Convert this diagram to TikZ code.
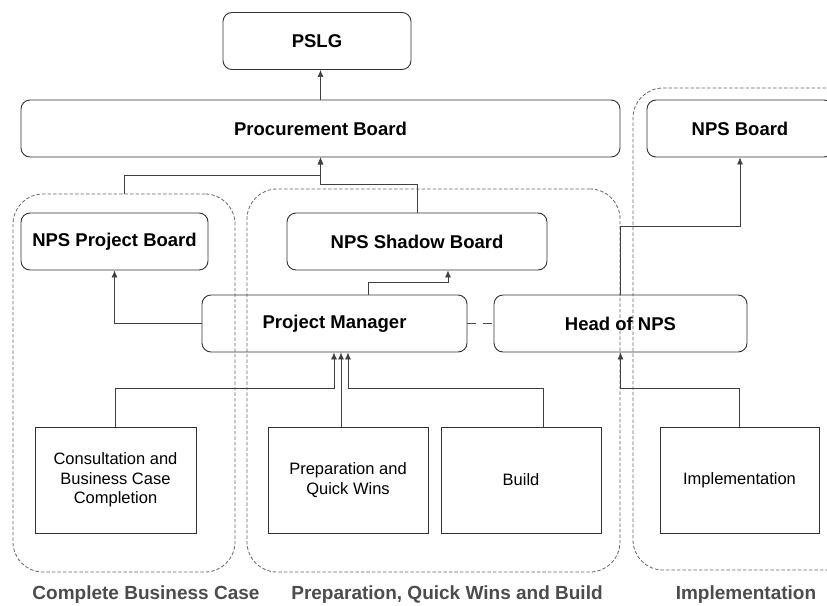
\documentclass[tikz,border=0pt]{standalone}
\usepackage{fontspec}
\setmainfont{Liberation Sans}
\usepackage{tikz}
\usetikzlibrary{positioning,arrows,arrows.meta}
\tikzset{
board/.style = {draw=black!80, rounded corners=9pt, line width=0.9pt, minimum height=57pt, inner sep=2pt,
  font=\fontsize{18.5}{21}\selectfont\bfseries},
task/.style = {draw=black!80, line width=0.9pt, minimum width=160pt, minimum height=106pt, align=center,
  font=\fontsize{16.5}{19.5}\selectfont},
phase/.style = {draw=black!60, dash pattern=on 3.5pt off 2pt, rounded corners=30pt, line width=0.8pt},
phaselabel/.style = {text=black!70, font=\fontsize{19}{22}\selectfont\bfseries},
link/.style = {draw=black!75, line width=0.7pt, -{Latex[length=7pt,width=6pt]}} % connector with arrow head
}

\begin{document}
\begin{tikzpicture}[x=1pt, y=-1pt]
      \clip (0,0) rectangle (827,605);
      % phases
      \node [phase, minimum width=222pt, minimum height=378pt] (grpA) at (124,383) {};
      \node [phase, minimum width=373pt, minimum height=383pt] (grpB) at (433.5,380.5) {};
      \node [phase, minimum width=267pt, minimum height=482pt] (grpC) at (766.5,329) {};
      \node [phaselabel] (labA) at (146,595) {Complete Business Case};
      \node [phaselabel] (labB) at (447,595) {Preparation, Quick Wins and Build};
      \node [phaselabel] (labC) at (746,595) {Implementation};
      % boards
      \node [board, minimum width=188pt] (pslg) at (317,41) {PSLG};
      \node [board, minimum width=599pt] (proc) at (320.5,128.5) {Procurement Board};
      \node [board, minimum width=186pt] (npsb) at (740,128.5) {NPS Board};
      \node [board, minimum width=187pt] (npb) at (114.5,241.5) {NPS Project Board};
      \node [board, minimum width=260pt] (nsb) at (417,241.5) {NPS Shadow Board};
      \node [board, minimum width=265pt] (pm) at (334.5,323.5) {Project Manager};
      \node [board, minimum width=253pt] (head) at (620.5,323.5) {Head of NPS};
      % work streams
      \node [task, minimum width=161pt] (cons) at (115.5,480) {Consultation and\\Business Case\\Completion};
      \node [task] (prep) at (348,480) {Preparation and\\Quick Wins};
      \node [task] (build) at (521,480) {Build};
      \node [task, minimum width=159pt] (impl) at (739.5,480) {Implementation};
      % connectors
      \draw [link] (proc.north) -- (proc.north |- pslg.south);
      \draw [link] (grpA.north) -- ++(0,-18) -| (proc.south);
      \draw [link] (nsb.north) -- ++(0,-28) -| (proc.south);
      \draw [link] (pm.west) -| (npb.south);
      \draw [link] ([xshift=33.5pt]pm.north) -- ++(0,-12) -| ([xshift=31pt]nsb.south);
      \draw [draw=black!70, line width=0.7pt, dash pattern=on 9pt off 7pt] (pm.east) -- (head.west);
      \draw [link] (head.north) -- ++(0,-68) -| (npsb.south);
      \draw [link] (cons.north) -- ++(0,-38) -| ([xshift=-0.5pt]pm.south);
      \draw [link] ([xshift=-7pt]prep.north) -- ([xshift=6.5pt]pm.south);
      \draw [link] ([xshift=22pt]build.north) -- ++(0,-38) -| ([xshift=13.5pt]pm.south);
      \draw [link] (impl.north) -- ++(0,-38) -| (head.south);
\end{tikzpicture}
\end{document}
